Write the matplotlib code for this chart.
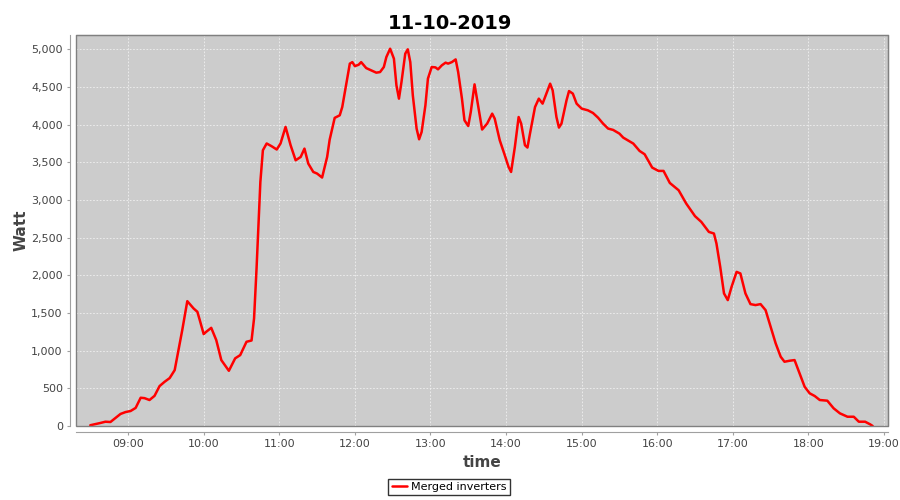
import numpy as np
import pandas as pd
import matplotlib
matplotlib.use('Agg')
import matplotlib.pyplot as plt
import matplotlib.dates as mdates
from matplotlib.ticker import FuncFormatter, MultipleLocator
from matplotlib.patches import Rectangle

day = '2019-10-11'
times = ['08:30', '08:38', '08:42', '08:46', '08:50', '08:54', '08:58', '09:02', '09:06', '09:10',
         '09:13', '09:17', '09:21', '09:25', '09:29', '09:33', '09:37', '09:40', '09:43', '09:47',
         '09:52', '09:55', '09:57', '10:00', '10:02', '10:06', '10:10', '10:14', '10:20', '10:25',
         '10:29', '10:34', '10:38', '10:40', '10:42', '10:45', '10:47', '10:50', '10:54', '10:58',
         '11:01', '11:05', '11:09', '11:13', '11:17', '11:20', '11:23', '11:27', '11:30', '11:34',
         '11:38', '11:40', '11:44', '11:48', '11:50', '11:53', '11:56', '11:58', '12:00', '12:03',
         '12:05', '12:09', '12:13', '12:17', '12:20', '12:23', '12:25', '12:28', '12:31', '12:33',
         '12:35', '12:37', '12:40', '12:42', '12:44', '12:46', '12:49', '12:51', '12:53', '12:56',
         '12:58', '13:01', '13:04', '13:06', '13:09', '13:12', '13:14', '13:17', '13:20', '13:22',
         '13:25', '13:27', '13:30', '13:32', '13:35', '13:38', '13:41', '13:45', '13:49', '13:51',
         '13:55', '13:59', '14:02', '14:04', '14:07', '14:10', '14:12', '14:15', '14:17', '14:19',
         '14:23', '14:26', '14:29', '14:32', '14:35', '14:37', '14:40', '14:42', '14:44', '14:48',
         '14:50', '14:53', '14:56', '15:00', '15:05', '15:09', '15:13', '15:17', '15:21', '15:25',
         '15:30', '15:33', '15:41', '15:46', '15:50', '15:56', '16:01', '16:05', '16:10', '16:17',
         '16:23', '16:30', '16:35', '16:41', '16:45', '16:47', '16:50', '16:53', '16:56', '16:59',
         '17:03', '17:06', '17:10', '17:14', '17:18', '17:22', '17:26', '17:30', '17:34', '17:38',
         '17:41', '17:45', '17:49', '17:53', '17:57', '18:01', '18:05', '18:09', '18:15', '18:20',
         '18:25', '18:31', '18:36', '18:40', '18:45', '18:49', '18:51']
watts = [10, 40, 57, 53, 106, 160, 185, 199, 240, 375,
         370, 345, 400, 530, 587, 636, 742, 1008, 1273, 1657,
         1560, 1516, 1400, 1220, 1250, 1303, 1140, 875, 733, 898,
         941, 1118, 1135, 1428, 2100, 3240, 3660, 3750, 3713, 3670,
         3750, 3970, 3727, 3527, 3571, 3682, 3484, 3372, 3351, 3298,
         3571, 3800, 4090, 4124, 4234, 4522, 4810, 4830, 4777, 4795,
         4830, 4751, 4720, 4690, 4698, 4765, 4897, 5008, 4876, 4522,
         4345, 4565, 4942, 5000, 4830, 4390, 3948, 3806, 3903, 4257,
         4611, 4765, 4760, 4734, 4787, 4823, 4810, 4830, 4866, 4698,
         4345, 4058, 3982, 4168, 4535, 4234, 3935, 4014, 4146, 4080,
         3793, 3594, 3439, 3372, 3704, 4101, 4014, 3727, 3696, 3881,
         4234, 4345, 4279, 4412, 4544, 4455, 4101, 3961, 4014, 4323,
         4446, 4412, 4279, 4213, 4190, 4155, 4093, 4014, 3948, 3930,
         3881, 3828, 3749, 3651, 3607, 3430, 3386, 3386, 3226, 3129,
         2953, 2785, 2709, 2576, 2555, 2423, 2112, 1760, 1671, 1847,
         2046, 2025, 1760, 1618, 1605, 1618, 1538, 1317, 1097, 919,
         853, 866, 875, 699, 521, 434, 398, 345, 336, 235,
         168, 123, 123, 57, 57, 22, 0]

t = pd.to_datetime([day + ' ' + s for s in times])

fig = plt.figure(figsize=(9, 5), dpi=100)
ax = fig.add_axes([76 / 900, 1 - 426 / 500, 812 / 900, 391 / 500])
ax.set_facecolor('#cccccc')

ax.plot(t, watts, color='#ff0000', lw=1.8, label='Merged inverters',
        solid_joinstyle='round', solid_capstyle='round')

ax.set_xlim(pd.Timestamp(day + ' 08:18:40'), pd.Timestamp(day + ' 19:03:10'))
ax.set_ylim(0, 5190)
ax.xaxis.set_major_locator(mdates.HourLocator(byhour=range(9, 20)))
ax.xaxis.set_major_formatter(mdates.DateFormatter('%H:%M'))
ax.yaxis.set_major_locator(MultipleLocator(500))
ax.yaxis.set_major_formatter(FuncFormatter(lambda v, p: f'{int(v):,}'))

ax.grid(True, color='#f0f0f0', linestyle=(0, (2, 2)), linewidth=0.6)
ax.set_axisbelow(True)

for side in ['top', 'right']:
    ax.spines[side].set_color('#808080')
for side in ['left', 'bottom']:
    ax.spines[side].set_position(('outward', 4))
    ax.spines[side].set_color('#a0a0a0')
ax.add_patch(Rectangle((0, 0), 1, 1, transform=ax.transAxes, fill=False,
                       edgecolor='#808080', lw=1, clip_on=False, zorder=5))
ax.tick_params(colors='#a0a0a0', labelcolor='#444444', labelsize=8, length=2)

ax.set_xlabel('time', fontsize=11, fontweight='bold', color='#444444', labelpad=4)
ax.set_ylabel('Watt', fontsize=11, fontweight='bold', color='#444444', labelpad=2)
fig.suptitle('11-10-2019', fontsize=14, fontweight='bold', y=0.972)

leg = fig.legend(loc='center', bbox_to_anchor=(449 / 900, 1 - 487 / 500), fontsize=8,
                 frameon=True, fancybox=False, edgecolor='black', handlelength=1.4,
                 borderpad=0.3, handletextpad=0.3)
leg.get_frame().set_linewidth(1)

plt.savefig('out.png', dpi=100)
